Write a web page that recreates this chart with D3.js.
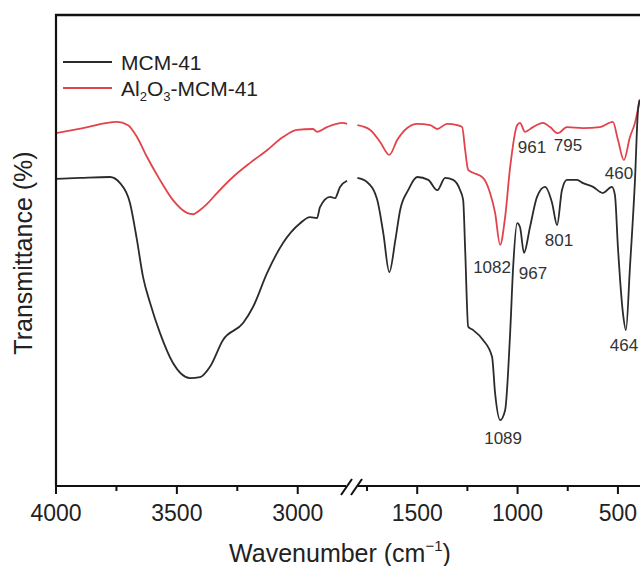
<!DOCTYPE html>
<html>
<head>
<meta charset="utf-8">
<script src="https://cdn.jsdelivr.net/npm/d3@7"></script>
<style>
  body { margin: 0; background: #fff; }
  text { font-family: "Liberation Sans", Arial, sans-serif; }
</style>
</head>
<body>
<svg id="chart" width="640" height="566"></svg>
<script>

// wavenumbers (cm-1) and transmittance readings, two pieces each side of the axis break
var mcmWave = [4000,3901,3777,3735,3694,3665,3640,3611,3570,3516,3446,3404,3363,3309,3226,3185,3127,3061,2990,2949,2920,2908,2866,2846,2825,2796,
  1798,1749,1699,1669,1639,1609,1585,1545,1500,1445,1400,1361,1321,1286,1271,1261,1246,1221,1172,1127,1112,1087,1062,1037,1022,1002,988,968,938,903,863,828,803,779,754,704,674,624,575,530,515,500,475,460,440,415,400,391];
var mcmT = [65.2,65.4,65.6,64.3,60.1,52.2,44.4,38.9,32.5,26.1,22.9,23.1,25.3,31.0,34.6,38.0,45.2,51.6,55.8,57.1,56.9,59.2,61.4,61.1,63.5,64.8,
  65.4,64.5,60.7,53.7,45.4,52.2,58.6,62.8,65.6,65.0,62.8,65.4,65.0,62.8,60.7,50.1,33.8,33.1,31.0,27.4,19.7,14.0,16.1,32.5,46.5,55.8,55.0,49.5,55.0,61.4,63.5,60.1,55.4,62.8,65.0,65.0,64.3,63.5,62.2,63.5,61.8,50.7,36.7,33.1,46.5,65.0,79.8,82.0];

var alWave = [4000,3888,3748,3702,3665,3624,3570,3516,3458,3433,3404,3375,3334,3268,3197,3127,3061,3003,2937,2920,2879,2813,2796,
  1798,1734,1684,1639,1599,1550,1500,1435,1400,1351,1301,1276,1261,1246,1221,1172,1137,1112,1087,1062,1037,1002,988,963,923,873,838,799,754,674,590,525,500,470,440,415,391];
var alT = [74.9,76.0,77.3,76.6,74.1,69.9,65.0,60.7,58.0,57.7,58.6,59.9,62.2,65.6,68.6,71.3,74.1,75.6,75.8,75.2,76.2,77.1,76.9,
  76.6,75.6,73.0,70.3,73.5,76.0,76.9,76.6,75.8,76.9,76.6,76.2,71.3,67.1,66.5,65.4,62.2,58.0,51.2,57.1,67.7,76.6,77.1,75.2,76.2,77.1,76.2,74.9,76.2,76.0,76.2,77.3,73.5,69.2,74.1,77.1,82.0];

var leftMajor = [4000, 3500, 3000];
var leftMinor = [3750, 3250];
var rightMajor = [1500, 1000, 500];
var rightMinor = [1750, 1250, 750];

var seriesNames = ["MCM-41", "Al2O3-MCM-41"];
var seriesColors = ["#2b2b2b", "#e2434b"];

// peak labels: text, wavenumber / transmittance where the label sits
var peakText = ["961", "795", "460", "1082", "967", "801", "464", "1089"];
var peakWave = [928, 749, 495, 1127, 923, 794, 470, 1072];
var peakT = [70.7, 71.1, 65.2, 45.2, 43.9, 51.0, 28.7, 8.9];


var svg = d3.select("#chart");
var plotTop = 15, plotBottom = 486, plotLeft = 56, plotRight = 640;

var xL = d3.scaleLinear().domain([4000, 2790]).range([56, 348.5]);
var xR = d3.scaleLinear().domain([1800, 390]).range([357, 640]);
var y = d3.scaleLinear().domain([0, 100]).range([plotBottom, plotTop]);

function xOf(w) { return w > 2000 ? xL(w) : xR(w); }

svg.append("rect").attr("width", 640).attr("height", 566).attr("fill", "#fff");

svg.append("defs").append("clipPath").attr("id", "plotclip")
  .append("rect").attr("x", plotLeft).attr("y", plotTop)
  .attr("width", plotRight - plotLeft).attr("height", plotBottom - plotTop);

var plot = svg.append("g").attr("clip-path", "url(#plotclip)");

var line = d3.line()
  .x(function(d){ return xOf(d[0]); })
  .y(function(d){ return y(d[1]); })
  .curve(d3.curveMonotoneX);

[[alWave, alT, seriesColors[1]], [mcmWave, mcmT, seriesColors[0]]].forEach(function(s){
  var pts = d3.zip(s[0], s[1]);
  var pieces = [pts.filter(function(p){ return p[0] > 2000; }),
                pts.filter(function(p){ return p[0] < 2000; })];
  pieces.forEach(function(p){
    plot.append("path")
      .datum(p)
      .attr("d", line)
      .attr("fill", "none")
      .attr("stroke", s[2])
      .attr("stroke-width", 1.8)
      .attr("stroke-linejoin", "round");
  });
});

// frame: left axis + top border
svg.append("line").attr("x1", plotLeft).attr("x2", plotLeft).attr("y1", plotTop - 1).attr("y2", plotBottom)
  .attr("stroke", "#111").attr("stroke-width", 2.2);
svg.append("line").attr("x1", plotLeft - 1).attr("x2", plotRight).attr("y1", plotTop).attr("y2", plotTop)
  .attr("stroke", "#111").attr("stroke-width", 2.6);

// bottom axis in two pieces
function drawAxis(scale, major, minor, x0, x1) {
  var g = svg.append("g");
  g.append("line").attr("x1", x0).attr("x2", x1).attr("y1", plotBottom).attr("y2", plotBottom)
    .attr("stroke", "#111").attr("stroke-width", 2.2);
  g.selectAll(".maj").data(major).enter().append("line")
    .attr("x1", scale).attr("x2", scale).attr("y1", plotBottom).attr("y2", plotBottom + 8)
    .attr("stroke", "#111").attr("stroke-width", 2);
  g.selectAll(".min").data(minor).enter().append("line")
    .attr("x1", scale).attr("x2", scale).attr("y1", plotBottom).attr("y2", plotBottom + 5)
    .attr("stroke", "#111").attr("stroke-width", 2);
  g.selectAll(".lab").data(major).enter().append("text")
    .attr("x", scale).attr("y", plotBottom + 35)
    .attr("text-anchor", "middle")
    .attr("font-size", 23)
    .attr("fill", "#222")
    .text(function(d){ return d; });
}
drawAxis(xL, leftMajor, leftMinor, plotLeft, 346);
drawAxis(xR, rightMajor, rightMinor, 358, plotRight);

// break marks
[341, 351].forEach(function(bx){
  svg.append("line").attr("x1", bx).attr("y1", plotBottom + 9).attr("x2", bx + 11).attr("y2", plotBottom - 7)
    .attr("stroke", "#111").attr("stroke-width", 2);
});

// axis titles
var xt = svg.append("text").attr("x", 340).attr("y", 562)
  .attr("text-anchor", "middle").attr("font-size", 25).attr("fill", "#222");
xt.append("tspan").text("Wavenumber (cm");
xt.append("tspan").attr("font-size", 15).attr("dy", -11).text("\u22121");
xt.append("tspan").attr("dy", 11).text(")");

svg.append("text")
  .attr("transform", "translate(32,253) rotate(-90)")
  .attr("text-anchor", "middle").attr("font-size", 25).attr("fill", "#222")
  .text("Transmittance (%)");

// legend
var leg = svg.append("g");
leg.append("line").attr("x1", 63).attr("x2", 112).attr("y1", 62).attr("y2", 62)
  .attr("stroke", seriesColors[0]).attr("stroke-width", 1.8);
leg.append("text").attr("x", 121).attr("y", 70).attr("font-size", 21).attr("fill", "#222").text(seriesNames[0]);
leg.append("line").attr("x1", 63).attr("x2", 112).attr("y1", 88).attr("y2", 88)
  .attr("stroke", seriesColors[1]).attr("stroke-width", 1.8);
var t2 = leg.append("text").attr("x", 121).attr("y", 96).attr("font-size", 21).attr("fill", "#222");
t2.append("tspan").text("Al");
t2.append("tspan").attr("font-size", 13).attr("dy", 5).text("2");
t2.append("tspan").attr("dy", -5).text("O");
t2.append("tspan").attr("font-size", 13).attr("dy", 5).text("3");
t2.append("tspan").attr("dy", -5).text("-MCM-41");

// peak labels
svg.selectAll(".peak").data(peakText).enter().append("text")
  .attr("x", function(d, i){ return xR(peakWave[i]); })
  .attr("y", function(d, i){ return y(peakT[i]); })
  .attr("text-anchor", "middle")
  .attr("font-size", 17)
  .attr("fill", "#333")
  .text(function(d){ return d; });

</script>
</body>
</html>
